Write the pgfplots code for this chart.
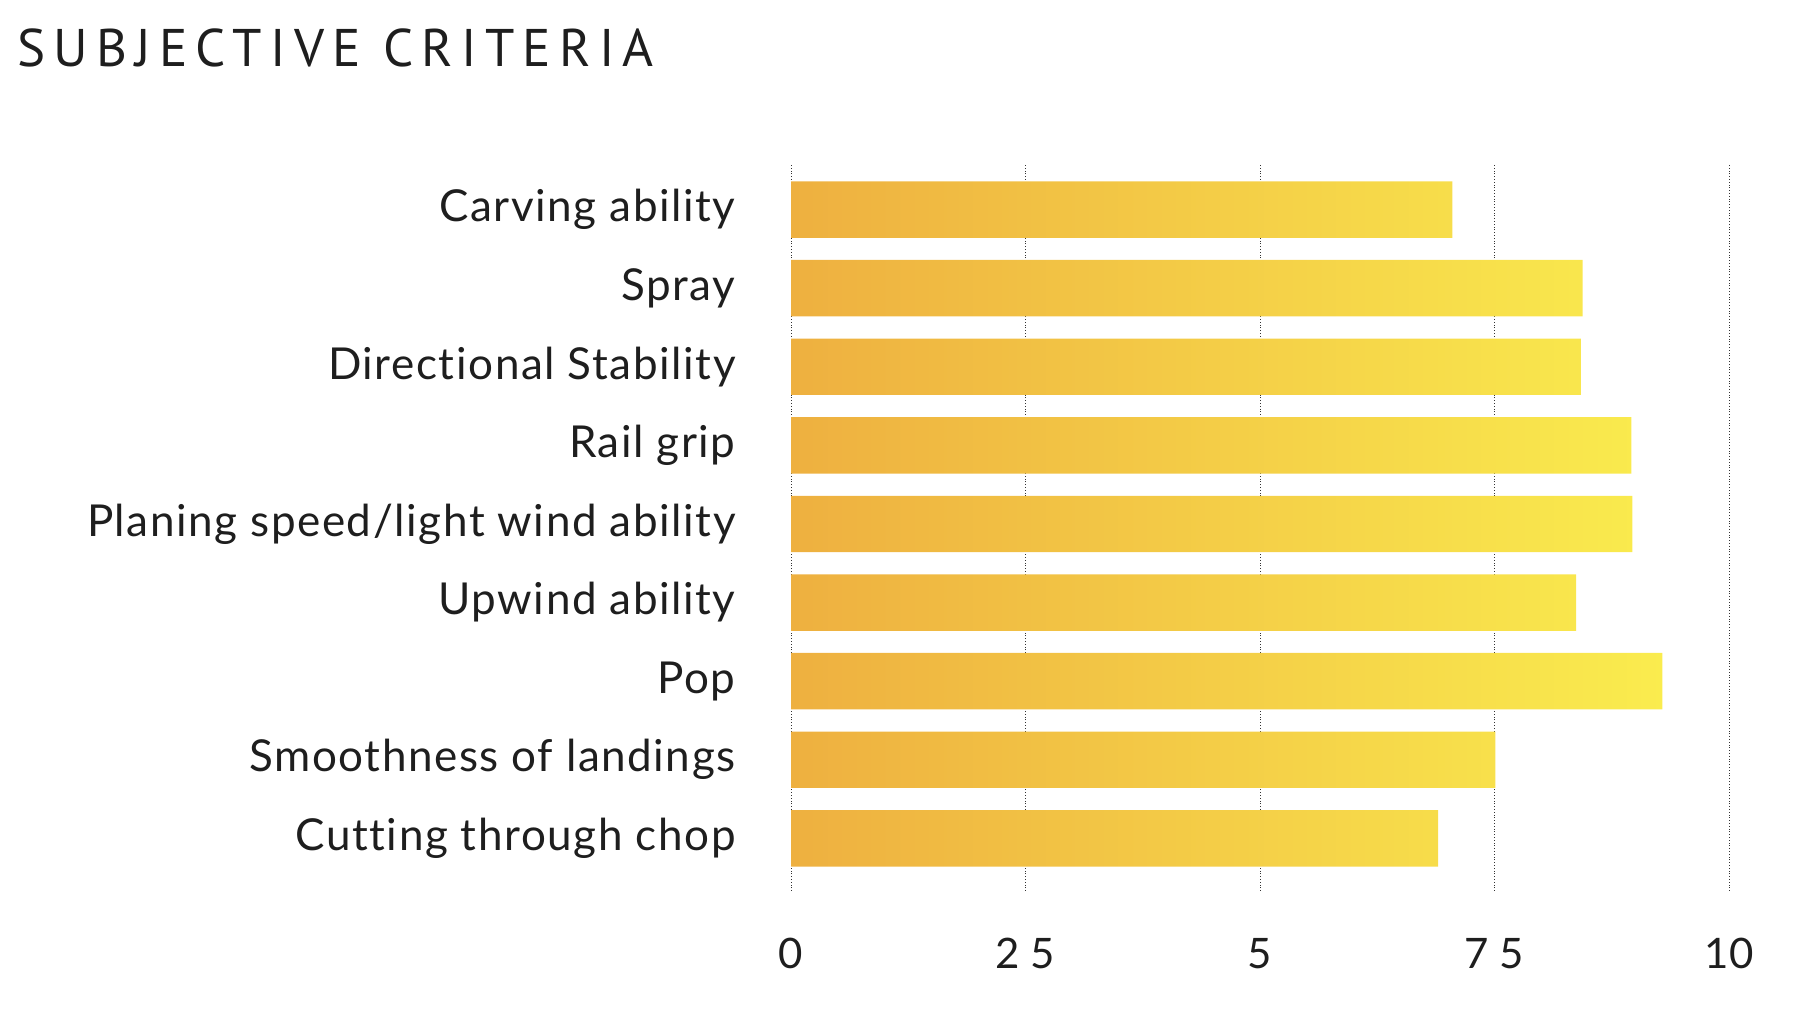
\documentclass[border=0pt]{standalone}
\usepackage{fontspec}
\setmainfont{Lato}
\newfontfamily\titlefont[LetterSpace=15.5]{PT Sans}
\newfontfamily\labfont[LetterSpace=3.6, Ligatures=NoCommon]{Lato}
\usepackage{pgfplots}
\pgfplotsset{compat=1.18}
\definecolor{barL}{RGB}{238,176,64}
\definecolor{barR}{RGB}{250,236,78}
\definecolor{txt}{RGB}{30,30,30}
\begin{document}
\begin{tikzpicture}
\useasboundingbox (0,0) rectangle (901pt,505pt);
\node[anchor=base west, inner sep=0pt, text=txt, font=\titlefont\fontsize{26.5}{30}\selectfont] at (8.5pt,471.5pt) {SUBJECTIVE CRITERIA};
\begin{axis}[
  at={(395.5pt,59.5pt)}, anchor=south west,
  scale only axis, width=469pt, height=363.5pt,
  xmin=0, xmax=10, ymin=-0.67, ymax=8.58,
  axis line style={draw=none},
  xtick={0,2.5,5,7.5,10},
  xticklabels={0,2 5,5,7 5,10},
  ytick={0,...,8},
  yticklabels={Cutting through chop,Smoothness of landings,Pop,Upwind ability,Planing speed/light wind ability,Rail grip,Directional Stability,Spray,Carving ability},
  major tick length=0pt,
  xmajorgrids,
  grid style={densely dotted, black!80, line width=0.5pt},
  x tick label style={anchor=north, inner sep=0pt, yshift=-23.5pt, font=\fontsize{21}{24}\selectfont, text=txt},
  y tick label style={anchor=east, inner sep=0pt, xshift=-27.5pt, font=\labfont\fontsize{22}{25}\selectfont, text=txt},
  /pgf/number format/assume math mode=true,
]
\addplot[xbar, bar width=28.2pt, bar shift=0pt, draw=none, left color=barL, right color=barR]
  coordinates {(6.90,0) (7.51,1) (9.29,2) (8.37,3) (8.97,4) (8.96,5) (8.42,6) (8.44,7) (7.05,8)};
\end{axis}
\end{tikzpicture}
\end{document}
